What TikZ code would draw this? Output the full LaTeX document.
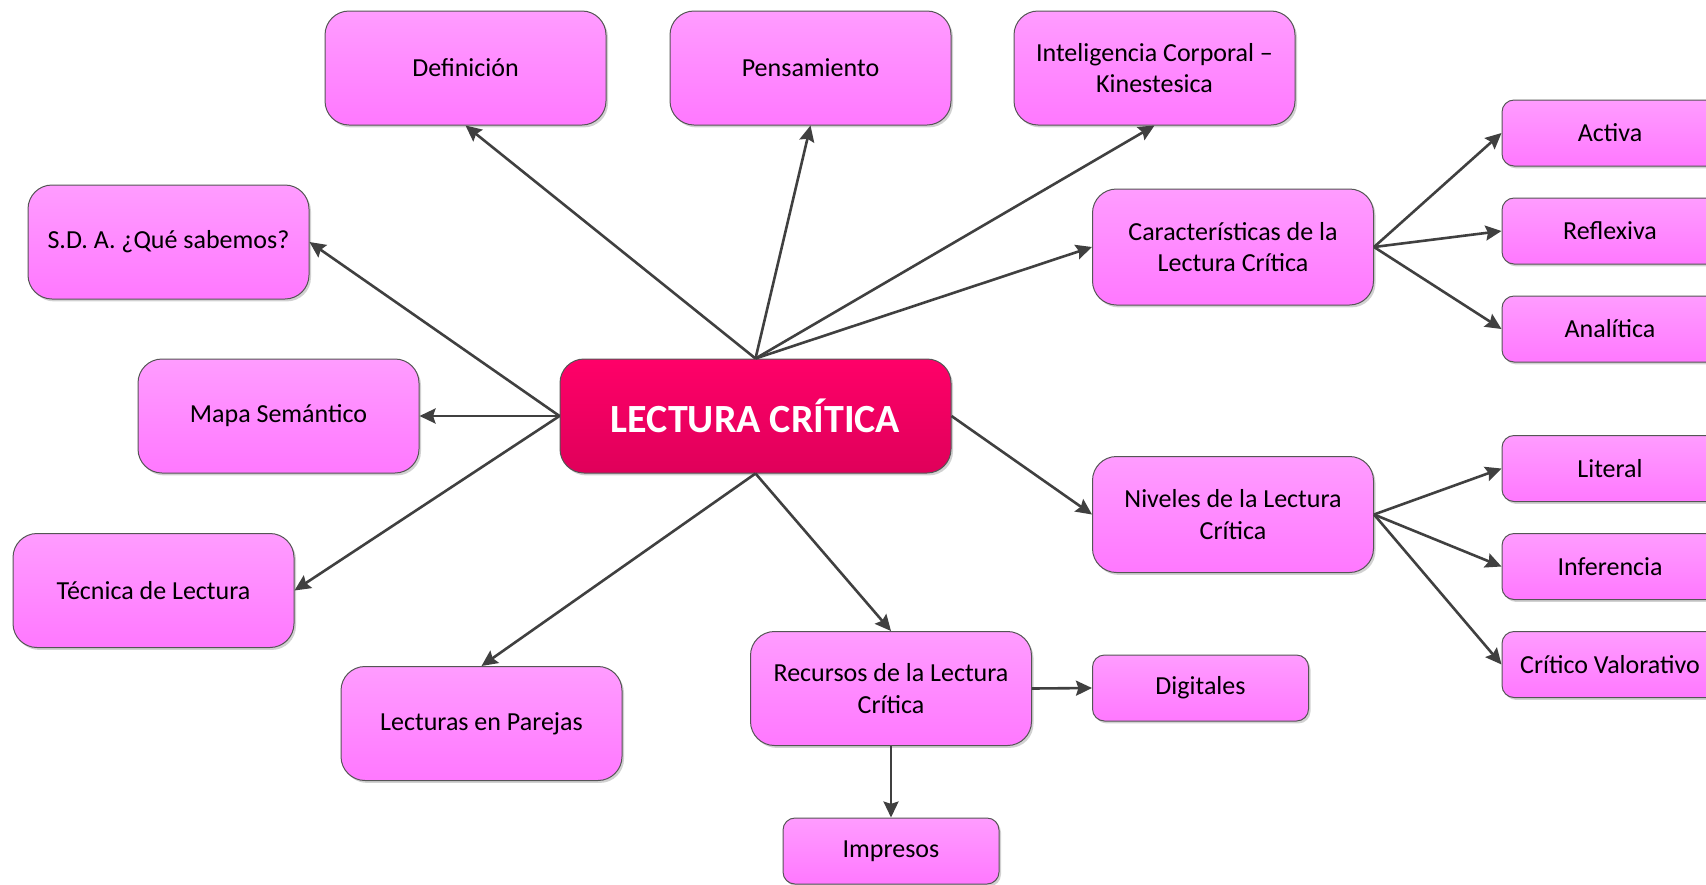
\documentclass[tikz,border=0pt]{standalone}
\usepackage{fontspec}
\setmainfont{Carlito}
\usetikzlibrary{arrows.meta,shadows}
\definecolor{boxtop}{HTML}{FF9CFF}
\definecolor{boxbot}{HTML}{FF78FF}
\definecolor{maintop}{HTML}{FF0068}
\definecolor{mainbot}{HTML}{DF005A}
\definecolor{edgecol}{HTML}{404040}
\definecolor{bordercol}{HTML}{555555}
\tikzset{
  x=0.5pt, y=-0.5pt,
  bigbox/.style={draw=bordercol, line width=0.5pt, rounded corners=12pt,
    top color=boxtop, bottom color=boxbot, align=center,
    minimum width=140.5pt, minimum height=57pt, inner sep=2pt,
    font=\fontsize{13pt}{15.8pt}\selectfont,
    drop shadow={shadow xshift=1pt, shadow yshift=-1.2pt, opacity=0.18, fill=black}},
  smallbox/.style={bigbox, rounded corners=6pt, minimum width=108pt, minimum height=33pt},
  mainbox/.style={bigbox, top color=maintop, bottom color=mainbot, text=white,
    minimum width=195.5pt, font=\fontsize{20pt}{24pt}\selectfont\bfseries},
  conn/.style={draw=edgecol, line width=1.3pt,
    -{Stealth[length=8pt,width=7.5pt,inset=1.2pt]}}
}
\begin{document}
\begin{tikzpicture}
\useasboundingbox (0,0) rectangle (1706,884);
\clip (0,0) rectangle (1706,884);
\node[mainbox] (c) at (755.5,416) {LECTURA CRÍTICA};
\node[bigbox] (def) at (465.5,68) {Definición};
\node[bigbox] (pen) at (810.5,68) {Pensamiento};
\node[bigbox] (intel) at (1154.5,68) {Inteligencia Corporal –\\Kinestesica};
\node[bigbox] (sda) at (168.5,242) {S.D. A. ¿Qué sabemos?};
\node[bigbox] (mapa) at (278.5,416) {Mapa Semántico};
\node[bigbox] (tec) at (153.5,590.5) {Técnica de Lectura};
\node[bigbox] (lec) at (481.5,723.5) {Lecturas en Parejas};
\node[bigbox, minimum height=58pt] (car) at (1233,247) {Características de la\\Lectura Crítica};
\node[bigbox, minimum height=58pt] (niv) at (1233,514.5) {Niveles de la Lectura\\Crítica};
\node[bigbox] (rec) at (891,688.5) {Recursos de la Lectura\\Crítica};
\node[smallbox] (dig) at (1200.5,688) {Digitales};
\node[smallbox] (imp) at (891,851) {Impresos};
\node[smallbox] (act) at (1610,133) {Activa};
\node[smallbox] (ref) at (1610,231) {Reflexiva};
\node[smallbox] (ana) at (1610,329) {Analítica};
\node[smallbox] (lit) at (1610,468.5) {Literal};
\node[smallbox] (inf) at (1610,566.5) {Inferencia};
\node[smallbox] (cri) at (1610,664.5) {Crítico Valorativo};

\draw[conn] (c.north) -- (def.south);
\draw[conn] (c.north) -- (pen.south);
\draw[conn] (c.north) -- (intel.south);
\draw[conn] (c.north) -- (car.west);
\draw[conn] (c.west) -- (sda.east);
\draw[conn] (c.west) -- (mapa.east);
\draw[conn] (c.west) -- (tec.east);
\draw[conn] (c.south) -- (lec.north);
\draw[conn] (c.south) -- (rec.north);
\draw[conn] (c.east) -- (niv.west);
\draw[conn] (car.east) -- (act.west);
\draw[conn] (car.east) -- (ref.west);
\draw[conn] (car.east) -- (ana.west);
\draw[conn] (niv.east) -- (lit.west);
\draw[conn] (niv.east) -- (inf.west);
\draw[conn] (niv.east) -- (cri.west);
\draw[conn] (rec.east) -- (dig.west);
\draw[conn] (rec.south) -- (imp.north);
\end{tikzpicture}
\end{document}
